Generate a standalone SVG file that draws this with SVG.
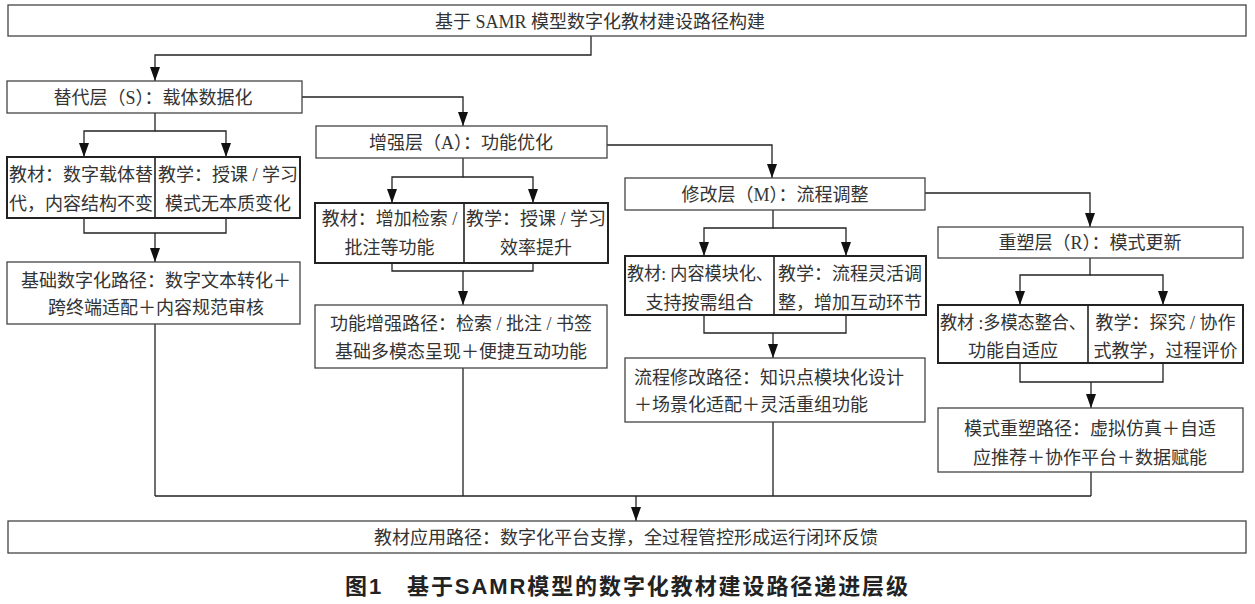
<svg xmlns="http://www.w3.org/2000/svg" width="1255" height="604" viewBox="0 0 1255 604">
<style>
.bx{fill:#fff;stroke:#444;stroke-width:1.3}
.bx2{fill:#fff;stroke:#222;stroke-width:2}
.dv{stroke:#222;stroke-width:1.6}
.ln{fill:none;stroke:#222;stroke-width:1.3}
.t{font-family:"Liberation Serif","Noto Sans CJK SC",serif;font-size:18px;fill:#333;text-anchor:middle}
.ts{font-family:"Liberation Serif","Noto Sans CJK SC",serif;font-size:18px;fill:#333;text-anchor:start}
.cap{font-family:"Liberation Sans","Noto Sans CJK SC",sans-serif;font-size:22px;font-weight:bold;fill:#222;text-anchor:start}
</style>
<defs>
<marker id="ah" viewBox="0 0 14 10" refX="14" refY="5" markerWidth="14" markerHeight="10" orient="auto" markerUnits="userSpaceOnUse">
<path d="M0,0 L14,5 L0,10 z" fill="#111"/>
</marker>
</defs>
<rect width="1255" height="604" fill="#fff"/>
<g id="connectors">
<path class="ln" d="M591,36 V55 H155 V81" marker-end="url(#ah)"/>
<path class="ln" d="M302,97 H463 V126" marker-end="url(#ah)"/>
<path class="ln" d="M607,145 H772 V178" marker-end="url(#ah)"/>
<path class="ln" d="M925,193 H1090 V227" marker-end="url(#ah)"/>
<path class="ln" d="M155,113 V131 H84 V157" marker-end="url(#ah)"/>
<path class="ln" d="M155,131 H226 V157" marker-end="url(#ah)"/>
<path class="ln" d="M84,218 V233 H226 V218"/>
<path class="ln" d="M155,233 V262" marker-end="url(#ah)"/>
<path class="ln" d="M463,158 V177 H392 V203" marker-end="url(#ah)"/>
<path class="ln" d="M463,177 H533 V203" marker-end="url(#ah)"/>
<path class="ln" d="M392,263 V271 H533 V263"/>
<path class="ln" d="M463,271 V305" marker-end="url(#ah)"/>
<path class="ln" d="M773,210 V228 H704 V256" marker-end="url(#ah)"/>
<path class="ln" d="M773,228 H846 V256" marker-end="url(#ah)"/>
<path class="ln" d="M704,315 V333 H846 V315"/>
<path class="ln" d="M773,333 V358" marker-end="url(#ah)"/>
<path class="ln" d="M1090,258 V275 H1020 V305" marker-end="url(#ah)"/>
<path class="ln" d="M1090,275 H1163 V305" marker-end="url(#ah)"/>
<path class="ln" d="M1020,363 V382 H1163 V363"/>
<path class="ln" d="M1091,382 V408" marker-end="url(#ah)"/>
<path class="ln" d="M155,324 V496 M463,368 V496 M773,422 V496 M1091,472 V496 M155,496 H1091"/>
<path class="ln" d="M636,496 V521" marker-end="url(#ah)"/>
</g>
<g id="top">
<rect class="bx" x="8" y="5" width="1238" height="31"/>
<text class="t" x="600" y="27.5">基于 SAMR 模型数字化教材建设路径构建</text>
</g>
<g id="s-layer">
<rect class="bx" x="7" y="81" width="295" height="32"/>
<text class="t" x="153" y="103.5">替代层（S）：载体数据化</text>
</g>
<g id="s-children">
<rect class="bx2" x="7" y="157" width="293" height="61"/>
<line class="dv" x1="155" y1="157" x2="155" y2="218"/>
<text class="t" x="81" y="180.5">教材：数字载体替</text>
<text class="t" x="81" y="209.5">代，内容结构不变</text>
<text class="t" x="228" y="180.5">教学：授课 / 学习</text>
<text class="t" x="228" y="209.5">模式无本质变化</text>
</g>
<g id="s-path">
<rect class="bx" x="7" y="262" width="293" height="62"/>
<text class="t" x="156" y="286.5">基础数字化路径：数字文本转化＋</text>
<text class="t" x="156" y="313.5">跨终端适配＋内容规范审核</text>
</g>
<g id="a-layer">
<rect class="bx" x="316" y="126" width="291" height="32"/>
<text class="t" x="461" y="148.5">增强层（A）：功能优化</text>
</g>
<g id="a-children">
<rect class="bx2" x="315" y="203" width="293" height="60"/>
<line class="dv" x1="464" y1="203" x2="464" y2="263"/>
<text class="t" x="389.5" y="225">教材：增加检索 /</text>
<text class="t" x="389.5" y="254">批注等功能</text>
<text class="t" x="536" y="225">教学：授课 / 学习</text>
<text class="t" x="536" y="254">效率提升</text>
</g>
<g id="a-path">
<rect class="bx" x="315" y="305" width="292" height="63"/>
<text class="t" x="461" y="329.5">功能增强路径：检索 / 批注 / 书签</text>
<text class="t" x="461" y="358">基础多模态呈现＋便捷互动功能</text>
</g>
<g id="m-layer">
<rect class="bx" x="625" y="178" width="300" height="32"/>
<text class="t" x="775" y="200.5">修改层（M）：流程调整</text>
</g>
<g id="m-children">
<rect class="bx2" x="625" y="256" width="301" height="59"/>
<line class="dv" x1="774" y1="256" x2="774" y2="315"/>
<text class="ts" x="627" y="279.5" textLength="146" lengthAdjust="spacingAndGlyphs">教材: 内容模块化、</text>
<text class="t" x="699.5" y="308.5">支持按需组合</text>
<text class="t" x="850" y="279.5">教学：流程灵活调</text>
<text class="t" x="850" y="308.5">整，增加互动环节</text>
</g>
<g id="m-path">
<rect class="bx" x="625" y="358" width="300" height="64"/>
<text class="ts" x="634" y="384">流程修改路径：知识点模块化设计</text>
<text class="ts" x="634" y="411">＋场景化适配＋灵活重组功能</text>
</g>
<g id="r-layer">
<rect class="bx" x="938" y="227" width="305" height="31"/>
<text class="t" x="1090" y="249">重塑层（R）：模式更新</text>
</g>
<g id="r-children">
<rect class="bx2" x="938" y="305" width="305" height="58"/>
<line class="dv" x1="1088" y1="305" x2="1088" y2="363"/>
<text class="ts" x="940" y="328.5" textLength="146" lengthAdjust="spacingAndGlyphs">教材 :多模态整合、</text>
<text class="t" x="1013" y="356.5">功能自适应</text>
<text class="t" x="1165.5" y="328.5">教学：探究 / 协作</text>
<text class="t" x="1165.5" y="356.5">式教学，过程评价</text>
</g>
<g id="r-path">
<rect class="bx" x="938" y="408" width="305" height="64"/>
<text class="t" x="1090" y="434.5">模式重塑路径：虚拟仿真＋自适</text>
<text class="t" x="1090" y="464">应推荐＋协作平台＋数据赋能</text>
</g>
<g id="bottom">
<rect class="bx" x="8" y="521" width="1238" height="32"/>
<text class="t" x="626" y="543.5">教材应用路径：数字化平台支撑，全过程管控形成运行闭环反馈</text>
</g>
<text class="cap" x="345" y="594" textLength="563" lengthAdjust="spacing">图1　基于SAMR模型的数字化教材建设路径递进层级</text>
</svg>
